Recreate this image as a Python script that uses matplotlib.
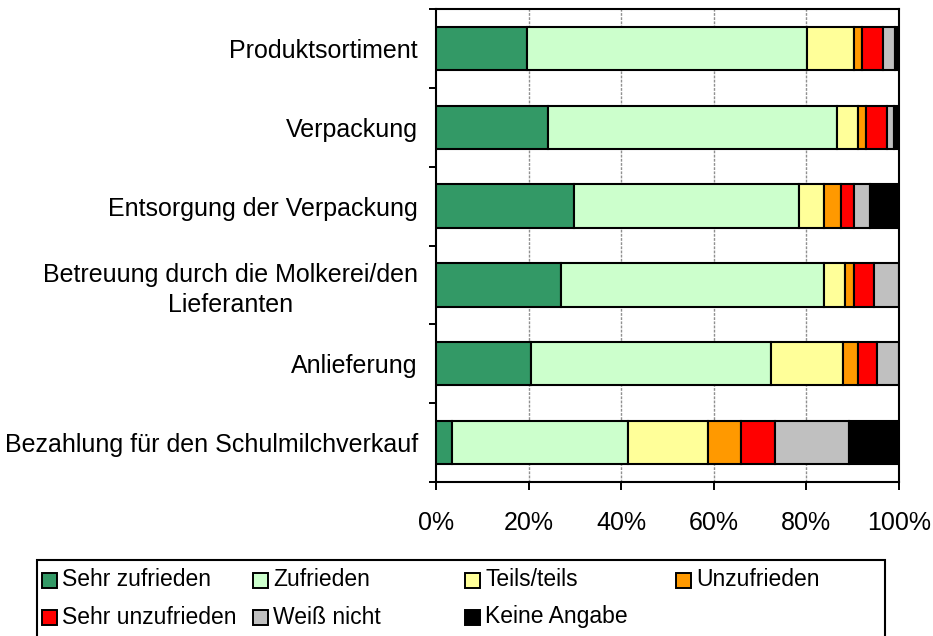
import matplotlib.pyplot as plt
import numpy as np
from matplotlib.patches import Rectangle

plt.rcParams['font.family'] = ['Liberation Sans', 'DejaVu Sans']

CATEGORIES = ["Produktsortiment", "Verpackung", "Entsorgung der Verpackung",
              "Betreuung durch die Molkerei/den\nLieferanten", "Anlieferung",
              "Bezahlung für den Schulmilchverkauf"]
LABELS = ["Sehr zufrieden", "Zufrieden", "Teils/teils", "Unzufrieden",
          "Sehr unzufrieden", "Weiß nicht", "Keine Angabe"]
COLORS = ["#339966", "#CCFFCC", "#FFFF99", "#FF9900", "#FF0000", "#C0C0C0", "#000000"]

sehr_zufrieden = [19.6, 24.2, 29.7, 26.9, 20.6, 3.5]
zufrieden = [60.6, 62.4, 48.8, 57.0, 51.7, 38.0]
teils = [10.0, 4.5, 5.4, 4.5, 15.6, 17.2]
unzufrieden = [1.8, 1.8, 3.5, 1.8, 3.2, 7.2]
sehr_unzufrieden = [4.5, 4.5, 2.8, 4.5, 4.1, 7.3]
weiss_nicht = [2.6, 1.6, 3.6, 5.3, 4.8, 15.9]
keine_angabe = [0.9, 1.0, 6.2, 0.0, 0.0, 10.9]

SERIES = [sehr_zufrieden, zufrieden, teils, unzufrieden,
          sehr_unzufrieden, weiss_nicht, keine_angabe]


def main():
    fig = plt.figure(figsize=(9.33, 6.36), dpi=100)
    ax = fig.add_axes([436 / 933, 1 - 482 / 636, 463 / 933, 473 / 636])

    y = np.arange(len(CATEGORIES))
    left = np.zeros(len(CATEGORIES))
    for vals, color in zip(SERIES, COLORS):
        vals = np.array(vals)
        ax.barh(y, vals, left=left, height=0.55, color=color,
                edgecolor="black", linewidth=1.5, zorder=3)
        left += vals

    ax.set_xlim(0, 100)
    ax.set_ylim(len(CATEGORIES) - 0.5, -0.5)

    ax.set_xticks(np.arange(0, 101, 20))
    ax.set_xticklabels([f"{v}%" for v in range(0, 101, 20)], fontsize=18)
    ax.tick_params(axis="x", direction="out", length=6, width=1.4, pad=15)

    ax.set_yticks(y)
    ax.set_yticklabels(CATEGORIES, fontsize=18)
    for lbl in ax.get_yticklabels():
        lbl.set_multialignment("center")
        lbl.set_linespacing(1.3)
    ax.tick_params(axis="y", which="major", length=0, pad=13)
    ax.set_yticks(np.arange(-0.5, len(CATEGORIES)), minor=True)
    ax.tick_params(axis="y", which="minor", direction="out", length=5, width=1.4)

    for v in range(20, 100, 20):
        ax.axvline(v, color="#909090", linewidth=1.0, linestyle=(0, (2, 1)), zorder=1)

    for sp in ax.spines.values():
        sp.set_linewidth(1.5)
        sp.set_color("black")

    # legend drawn by hand to keep the Excel-like column spacing
    fig.patches.append(Rectangle((37 / 933, -0.01), 848 / 933, 1 - 560 / 636 + 0.01,
                                 transform=fig.transFigure, fill=False,
                                 edgecolor="black", linewidth=1.5))
    col_x = [42, 253, 465, 676]
    row_y = [580, 617]
    for i, (lab, color) in enumerate(zip(LABELS, COLORS)):
        r, c = divmod(i, 4)
        x0 = col_x[c] / 933
        yc = 1 - row_y[r] / 636
        fig.patches.append(Rectangle((x0, yc - 7.5 / 636), 15 / 933, 15 / 636,
                                     transform=fig.transFigure, facecolor=color,
                                     edgecolor="black", linewidth=1.4))
        fig.text(x0 + 20 / 933, yc, lab, fontsize=16.5, va="center", ha="left")

    fig.savefig("out.png", dpi=100)


if __name__ == '__main__':
    main()
